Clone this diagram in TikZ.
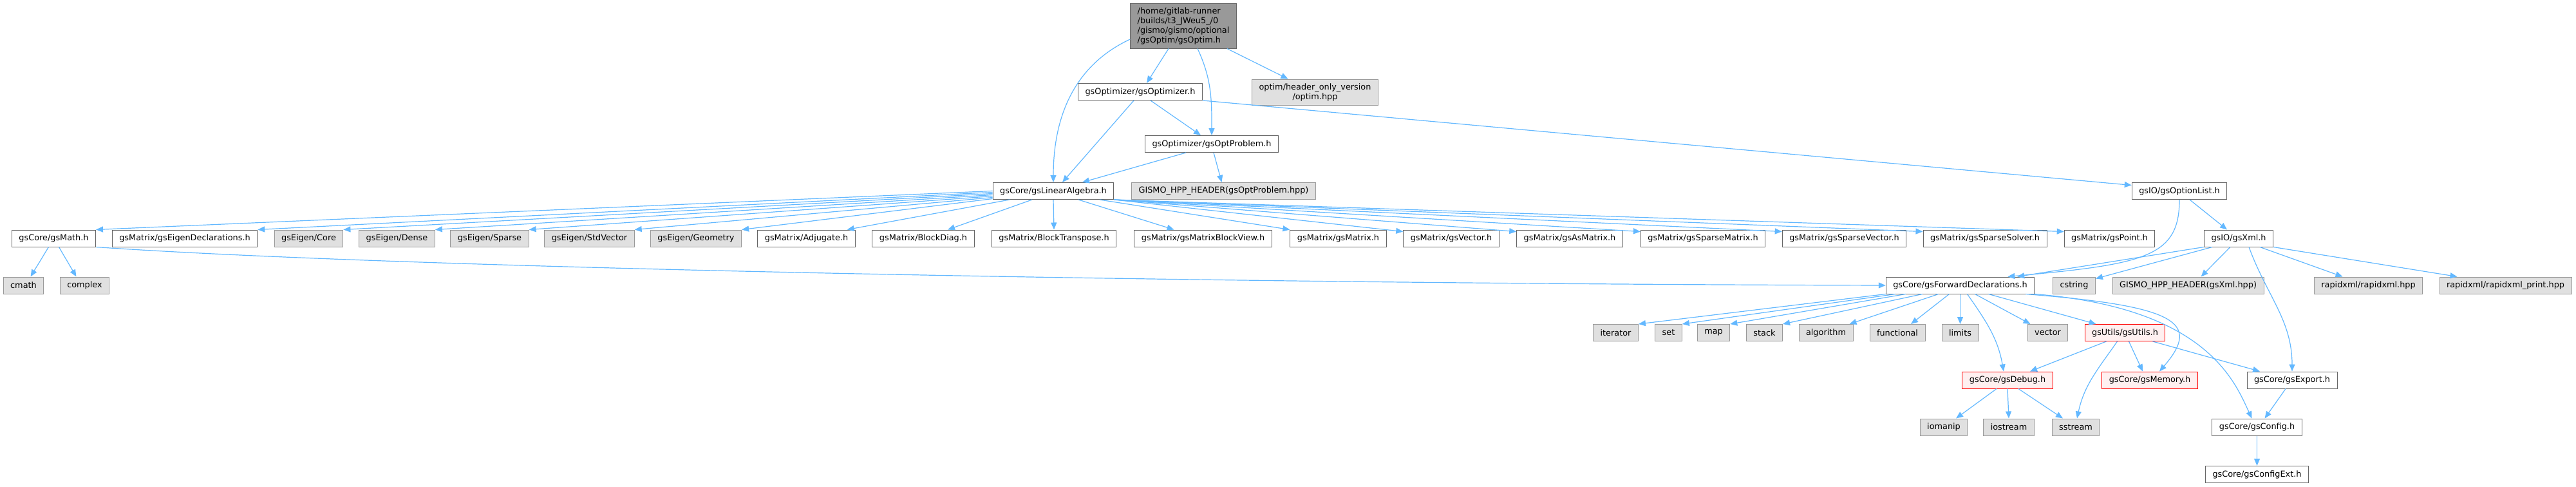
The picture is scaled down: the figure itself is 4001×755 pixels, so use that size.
\documentclass[tikz,border=0pt]{standalone}
\usepackage{fontspec}
\setmainfont{DejaVu Sans}
\usetikzlibrary{arrows.meta}

\definecolor{incblue}{HTML}{63B8FF}
\definecolor{sysgray}{HTML}{E0E0E0}
\definecolor{rootgray}{HTML}{999999}

\tikzset{
  hfile/.style={draw=black!60, fill=white, line width=1pt, inner xsep=11pt, inner ysep=0pt,
    minimum height=26pt, font=\fontsize{12.85}{15}\selectfont},
  sysfile/.style={hfile, draw=black!40, fill=sysgray},
  redfile/.style={hfile, draw=red, fill=red!6},
  rootfile/.style={hfile, draw=black!60, fill=rootgray, align=left, minimum height=70pt},
  inc/.style={draw=incblue, line width=1.2pt, -{Triangle[length=11pt,width=9pt]}},
}

\begin{document}
\begin{tikzpicture}[x=1pt, y=-1pt]
        \useasboundingbox (0,0) rectangle (4001,755);

        % Top: the file itself and what it includes directly
        \node[rootfile] (root) at (1838,40) {/home/gitlab-runner\\/builds/t3\_JWeu5\_/0\\/gismo/gismo/optional\\/gsOptim/gsOptim.h};
        \node[hfile] (opt) at (1771,142.5) {gsOptimizer/gsOptimizer.h};
        \node[sysfile, align=center, minimum height=40pt] (optimhpp) at (2042.5,143) {optim/header\_only\_version\\/optim.hpp};
        \node[hfile] (oprob) at (1882,223.5) {gsOptimizer/gsOptProblem.h};
        \node[hfile] (la) at (1636,296.5) {gsCore/gsLinearAlgebra.h};
        \node[sysfile] (gismoopt) at (1900.5,296.5) {GISMO\_HPP\_HEADER(gsOptProblem.hpp)};
        \node[hfile] (optlist) at (3385,296.5) {gsIO/gsOptionList.h};

        % Row under gsLinearAlgebra.h
        \node[hfile] (math) at (83.5,370) {gsCore/gsMath.h};
        \node[hfile] (eigdecl) at (287,370) {gsMatrix/gsEigenDeclarations.h};
        \node[sysfile] (ecore) at (479.5,370) {gsEigen/Core};
        \node[sysfile] (edense) at (616.5,370) {gsEigen/Dense};
        \node[sysfile] (esparse) at (760.5,370) {gsEigen/Sparse};
        \node[sysfile] (estdvec) at (915.5,370) {gsEigen/StdVector};
        \node[sysfile] (egeom) at (1081,370) {gsEigen/Geometry};
        \node[hfile] (adj) at (1252.5,370) {gsMatrix/Adjugate.h};
        \node[hfile] (bdiag) at (1434,370) {gsMatrix/BlockDiag.h};
        \node[hfile] (btrans) at (1637,370) {gsMatrix/BlockTranspose.h};
        \node[hfile] (mbview) at (1868.5,370) {gsMatrix/gsMatrixBlockView.h};
        \node[hfile] (matrix) at (2078.5,370) {gsMatrix/gsMatrix.h};
        \node[hfile] (vector) at (2254,370) {gsMatrix/gsVector.h};
        \node[hfile] (asmat) at (2438,370) {gsMatrix/gsAsMatrix.h};
        \node[hfile] (spmat) at (2645,370) {gsMatrix/gsSparseMatrix.h};
        \node[hfile] (spvec) at (2864.5,370) {gsMatrix/gsSparseVector.h};
        \node[hfile] (spsolv) at (3083,370) {gsMatrix/gsSparseSolver.h};
        \node[hfile] (point) at (3276.5,370) {gsMatrix/gsPoint.h};
        \node[hfile] (xml) at (3477,370) {gsIO/gsXml.h};

        % Row of forward declarations
        \node[sysfile] (cmath) at (36.5,443) {cmath};
        \node[sysfile] (complex) at (131.5,443) {complex};
        \node[hfile] (fd) at (3044.5,443) {gsCore/gsForwardDeclarations.h};
        \node[sysfile] (cstring) at (3221.5,443) {cstring};
        \node[sysfile] (gismoxml) at (3398.5,443) {GISMO\_HPP\_HEADER(gsXml.hpp)};
        \node[sysfile] (rapid) at (3678.5,443) {rapidxml/rapidxml.hpp};
        \node[sysfile] (rapidp) at (3891.5,443) {rapidxml/rapidxml\_print.hpp};

        % Standard headers
        \node[sysfile] (iterator) at (2509.5,516.5) {iterator};
        \node[sysfile] (set) at (2591.5,516.5) {set};
        \node[sysfile] (map) at (2661.5,516.5) {map};
        \node[sysfile] (stack) at (2740.5,516.5) {stack};
        \node[sysfile] (algorithm) at (2836,516.5) {algorithm};
        \node[sysfile] (functional) at (2947,516.5) {functional};
        \node[sysfile] (limits) at (3044.5,516.5) {limits};
        \node[sysfile] (stdvec) at (3180.5,516.5) {vector};
        \node[redfile] (utils) at (3300.5,516.5) {gsUtils/gsUtils.h};

        % Bottom part
        \node[redfile] (debug) at (3118,590) {gsCore/gsDebug.h};
        \node[redfile] (memory) at (3339,590) {gsCore/gsMemory.h};
        \node[hfile] (export) at (3560,590) {gsCore/gsExport.h};
        \node[sysfile] (iomanip) at (3019,663) {iomanip};
        \node[sysfile] (iostream) at (3120,663) {iostream};
        \node[sysfile] (sstream) at (3224,663) {sstream};
        \node[hfile] (config) at (3505.5,663) {gsCore/gsConfig.h};
        \node[hfile] (configext) at (3505.5,736.5) {gsCore/gsConfigExt.h};

        % Includes of the top files
        \draw[inc] ([yshift=-21pt]root.west) to[out=205,in=90] (la.north);
        \draw[inc] ([xshift=-23pt]root.south) -- ([xshift=10pt]opt.north);
        \draw[inc] ([xshift=22pt]root.south) to[out=-65,in=90] (oprob.north);
        \draw[inc] ([xshift=-15pt]root.south east) -- ([xshift=-42pt]optimhpp.north);
        \draw[inc] ([xshift=-10pt]opt.south) -- ([xshift=14pt]la.north);
        \draw[inc] ([xshift=16pt]opt.south) -- ([xshift=-17pt]oprob.north);
        \draw[inc] (opt.south east) -- ([yshift=9pt]optlist.west);
        \draw[inc] ([xshift=-40pt]oprob.south) -- ([xshift=45pt]la.north);
        \draw[inc] ([xshift=3pt]oprob.south) -- ([xshift=-3pt]gismoopt.north);

        % gsLinearAlgebra.h fans out
        \foreach \n/\s in {math/0, eigdecl/2, ecore/4, edense/6, esparse/8, estdvec/10, egeom/12}
          \draw[inc] ([yshift=-\s pt]la.west) -- (\n.north east);
        \draw[inc] ([xshift=-68pt]la.south) -- ([xshift=-13pt]adj.north east);
        \draw[inc] ([xshift=-33pt]la.south) -- ([xshift=38pt]bdiag.north);
        \draw[inc] (la.south) -- (btrans.north);
        \draw[inc] ([xshift=39pt]la.south) -- ([xshift=-45pt]mbview.north);
        \draw[inc] ([xshift=72pt]la.south) -- (matrix.north west);
        \foreach \n in {vector, asmat, spmat, spvec, spsolv, point}
          \draw[inc] (la.south east) -- ([yshift=-3pt]\n.north west);

        % gsMath.h and gsOptionList.h
        \draw[inc] ([xshift=-8pt]math.south) -- ([xshift=11pt]cmath.north);
        \draw[inc] ([xshift=8pt]math.south) -- ([xshift=-13pt]complex.north);
        \draw[inc] (math.south east) .. controls (600,415) and (1800,440) .. (fd.west);
        \draw[inc] (optlist.south) .. controls (3385,400) and (3330,410) .. ([xshift=-42pt]fd.north east);
        \draw[inc] ([xshift=16pt]optlist.south) -- ([xshift=-18pt]xml.north);

        % gsXml.h
        \draw[inc] (xml.south west) -- ([xshift=-27pt]fd.north east);
        \draw[inc] ([xshift=-41pt]xml.south) -- ([yshift=-3pt]cstring.north east);
        \draw[inc] ([xshift=-13pt]xml.south) -- ([xshift=20pt]gismoxml.north);
        \draw[inc] ([xshift=16pt]xml.south) to[out=-70,in=90] (export.north);
        \draw[inc] ([xshift=33pt]xml.south) -- ([xshift=-40pt]rapid.north);
        \draw[inc] (xml.south east) -- ([xshift=-75pt]rapidp.north);

        % gsForwardDeclarations.h
        \draw[inc] (fd.south west) -- (iterator.north east);
        \draw[inc] ([xshift=15pt]fd.south west) -- (set.north east);
        \draw[inc] ([xshift=31pt]fd.south west) -- (map.north east);
        \draw[inc] ([xshift=57pt]fd.south west) -- (stack.north east);
        \draw[inc] ([xshift=82pt]fd.south west) -- ([xshift=-6pt]algorithm.north east);
        \draw[inc] ([xshift=-17pt]fd.south) -- ([xshift=21pt]functional.north);
        \draw[inc] (fd.south) -- (limits.north);
        \draw[inc] ([xshift=11pt]fd.south) to[out=-55,in=100] ([xshift=-6pt]debug.north);
        \draw[inc] ([xshift=23pt]fd.south) -- ([xshift=-27pt]stdvec.north);
        \draw[inc] ([xshift=44pt]fd.south) -- ([xshift=-45pt]utils.north);
        \draw[inc] ([xshift=-14pt]fd.south east) .. controls (3380,475) and (3420,500) .. ([xshift=15pt]memory.north);
        \draw[inc] (fd.south east) .. controls (3425,478) and (3470,590) .. ([xshift=-8pt]config.north);

        % gsUtils.h and below
        \draw[inc] ([xshift=-29pt]utils.south) -- ([xshift=35pt]debug.north);
        \draw[inc] ([xshift=-12pt]utils.south) to[out=-125,in=78] ([xshift=2pt]sstream.north);
        \draw[inc] ([xshift=6pt]utils.south) -- ([xshift=-11pt]memory.north);
        \draw[inc] ([xshift=43pt]utils.south) -- ([xshift=-50pt]export.north);
        \draw[inc] ([xshift=-17pt]debug.south) -- ([xshift=19pt]iomanip.north);
        \draw[inc] (debug.south) -- (iostream.north);
        \draw[inc] ([xshift=17pt]debug.south) -- ([xshift=-20pt]sstream.north);
        \draw[inc] ([xshift=-10pt]export.south) -- ([xshift=12pt]config.north);
        \draw[inc] (config.south) -- (configext.north);

    \end{tikzpicture}
\end{document}
